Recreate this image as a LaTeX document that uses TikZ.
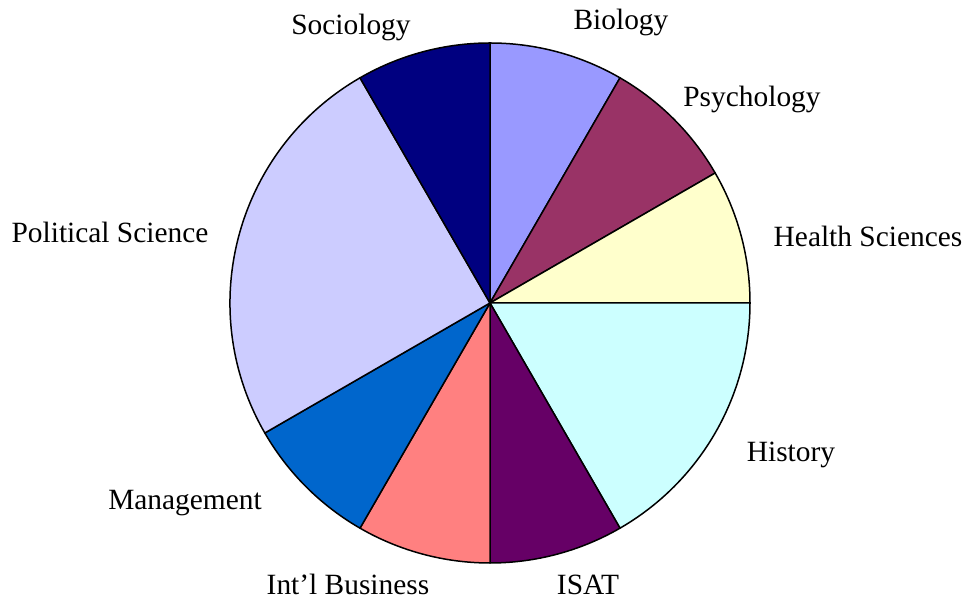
\documentclass[tikz,border=0pt]{standalone}
\usepackage{fontspec}
\setmainfont{Liberation Serif}
\usetikzlibrary{positioning}
\definecolor{biology}{HTML}{9999FF}
\definecolor{psychology}{HTML}{993366}
\definecolor{health}{HTML}{FFFFCC}
\definecolor{history}{HTML}{CCFFFF}
\definecolor{isat}{HTML}{660066}
\definecolor{business}{HTML}{FF8080}
\definecolor{management}{HTML}{0066CC}
\definecolor{polisci}{HTML}{CCCCFF}
\definecolor{sociology}{HTML}{000080}
\tikzstyle{slice} = [draw=black, line width=1.5pt, line join=round]
\tikzstyle{sectlabel} = [anchor=base, inner sep=0pt, font=\fontsize{29.4}{35}\selectfont]

\begin{document}
\begin{tikzpicture}[x=1pt,y=1pt]
  \useasboundingbox (0,0) rectangle (967,601);
  \coordinate (c) at (490,298);
  % slices, clockwise from the top
  \foreach \a/\b/\col in {90/60/biology, 60/30/psychology, 30/0/health,
      0/-60/history, -60/-90/isat, -90/-120/business,
      -120/-150/management, -150/-240/polisci, -240/-270/sociology}
    \filldraw[slice, fill=\col] (c) -- ++(\a:260)
      arc[start angle=\a, end angle=\b, radius=260] -- cycle;
  % labels
  \node[sectlabel] (sociology) at (351,566) {Sociology};
  \node[sectlabel] (biology) at (621,571) {Biology};
  \node[sectlabel] (psychology) at (752,494) {Psychology};
  \node[sectlabel] (health) at (868,354) {Health Sciences};
  \node[sectlabel] (history) at (791,139) {History};
  \node[sectlabel] (isat) at (588,6) {ISAT};
  \node[sectlabel] (business) at (348,6) {Int'l Business};
  \node[sectlabel] (management) at (185,91) {Management};
  \node[sectlabel] (polisci) at (110,358) {Political Science};
\end{tikzpicture}
\end{document}
